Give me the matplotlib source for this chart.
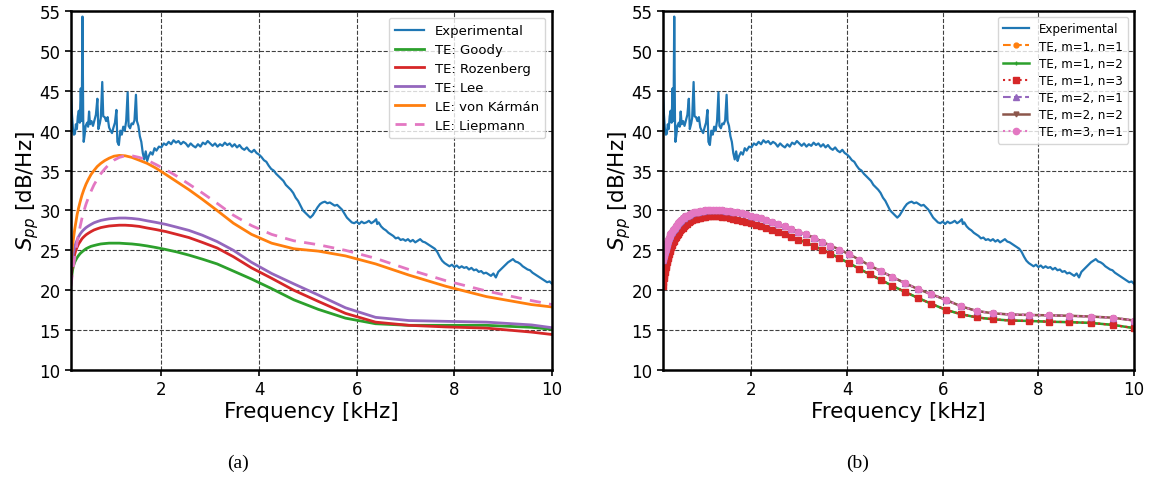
import numpy as np
import matplotlib
matplotlib.use("Agg")
import matplotlib.pyplot as plt

# ---------------- measured spectrum ----------------
exp_f = [0.15, 0.17, 0.19, 0.21, 0.23, 0.25, 0.27, 0.29, 0.31, 0.33, 0.35, 0.37, 0.385, 0.40,
         0.41, 0.43, 0.45, 0.48, 0.50, 0.52, 0.54, 0.57, 0.60, 0.63, 0.66, 0.69, 0.71, 0.74,
         0.76, 0.79, 0.81, 0.84, 0.87, 0.90, 0.93, 0.96, 0.99, 1.02, 1.05, 1.08, 1.10, 1.13,
         1.16, 1.19, 1.22, 1.25, 1.28, 1.31, 1.33, 1.36, 1.39, 1.42, 1.45, 1.48, 1.50, 1.53,
         1.56, 1.59, 1.62, 1.65, 1.68, 1.71, 1.74, 1.78, 1.82, 1.86, 1.90, 1.95, 2.00, 2.05,
         2.10, 2.15, 2.20, 2.25, 2.30, 2.35, 2.40, 2.45, 2.50, 2.55, 2.60, 2.65, 2.70, 2.75,
         2.80, 2.85, 2.90, 2.95, 3.00, 3.05, 3.10, 3.15, 3.20, 3.25, 3.30, 3.35, 3.40, 3.45,
         3.50, 3.55, 3.60, 3.65, 3.70, 3.75, 3.80, 3.85, 3.90, 3.95, 4.00, 4.05, 4.10, 4.15,
         4.20, 4.25, 4.30, 4.35, 4.40, 4.45, 4.50, 4.55, 4.60, 4.65, 4.70, 4.75, 4.80, 4.85,
         4.90, 4.95, 5.00, 5.05, 5.10, 5.15, 5.20, 5.25, 5.30, 5.35, 5.40, 5.45, 5.50, 5.55,
         5.60, 5.65, 5.70, 5.75, 5.80, 5.85, 5.90, 5.95, 6.00, 6.05, 6.10, 6.15, 6.20, 6.25,
         6.30, 6.35, 6.40, 6.42, 6.45, 6.50, 6.55, 6.60, 6.65, 6.70, 6.75, 6.80, 6.85, 6.90,
         6.95, 7.00, 7.05, 7.10, 7.15, 7.20, 7.25, 7.30, 7.35, 7.40, 7.45, 7.50, 7.55, 7.60,
         7.65, 7.70, 7.75, 7.80, 7.85, 7.90, 7.95, 8.00, 8.05, 8.10, 8.15, 8.20, 8.25, 8.30,
         8.35, 8.40, 8.45, 8.50, 8.55, 8.60, 8.65, 8.70, 8.75, 8.80, 8.85, 8.90, 8.95, 9.00,
         9.05, 9.10, 9.15, 9.20, 9.25, 9.30, 9.35, 9.40, 9.45, 9.50, 9.55, 9.60, 9.65, 9.70,
         9.75, 9.80, 9.85, 9.90, 9.95, 10.00]
exp_db = [44.8, 42.0, 40.2, 39.5, 39.6, 40.8, 40.2, 41.8, 42.5, 41.0, 45.3, 41.2, 54.3, 41.5,
          38.6, 39.5, 40.6, 41.0, 40.5, 42.4, 40.8, 41.2, 40.6, 41.3, 42.0, 44.0, 40.2, 40.9,
          41.6, 46.1, 41.8, 41.7, 41.2, 41.7, 40.4, 40.0, 39.7, 40.4, 41.0, 42.6, 38.6, 38.2,
          40.0, 39.5, 40.5, 40.0, 41.2, 44.8, 40.6, 40.3, 40.9, 40.8, 41.3, 44.5, 41.2, 40.6,
          39.3, 38.6, 37.2, 36.4, 37.4, 36.2, 36.8, 37.3, 37.0, 37.8, 37.5, 38.0, 37.9, 38.4,
          38.2, 38.6, 38.3, 38.8, 38.5, 38.7, 38.3, 38.6, 38.4, 38.0, 38.4, 38.1, 37.9, 38.3,
          38.0, 38.5, 38.3, 38.7, 38.4, 38.1, 38.4, 38.0, 38.3, 38.1, 38.5, 38.2, 38.4, 38.0,
          38.3, 37.9, 38.2, 37.8, 37.6, 37.9, 37.5, 37.3, 37.6, 37.2, 37.0, 36.7, 36.3, 36.1,
          35.6, 35.2, 35.0, 34.6, 34.3, 34.0, 33.7, 33.2, 32.9, 32.6, 32.2, 31.6, 31.2, 30.6,
          30.0, 29.7, 29.4, 29.1, 29.4, 29.9, 30.4, 30.8, 31.0, 31.1, 30.9, 31.0, 30.8, 30.6,
          30.7, 30.4, 30.1, 29.6, 29.1, 28.8, 28.5, 28.4, 28.6, 28.3, 28.6, 28.4, 28.5, 28.7,
          28.4, 28.6, 28.9, 28.3, 28.5, 28.0, 27.7, 27.5, 27.2, 27.0, 26.8, 26.5, 26.6, 26.3,
          26.4, 26.2, 26.4, 26.1, 26.3, 26.0, 26.2, 26.4, 26.1, 26.0, 25.8, 25.6, 25.4, 25.2,
          24.8, 24.2, 23.7, 23.4, 23.2, 23.0, 23.2, 22.9, 23.1, 22.8, 23.0, 22.8, 22.9, 22.6,
          22.8, 22.5, 22.6, 22.3, 22.4, 22.1, 22.2, 22.0, 21.8, 22.1, 21.6, 22.3, 22.6, 22.9,
          23.2, 23.5, 23.7, 23.9, 23.6, 23.5, 23.3, 23.0, 22.8, 22.6, 22.5, 22.2, 22.0, 21.8,
          21.6, 21.4, 21.2, 21.0, 21.1, 20.8]

# ---------------- panel (a): TE / LE predictions ----------------
freq_a = [0.150, 0.166, 0.184, 0.203, 0.225, 0.249, 0.276, 0.305, 0.338, 0.374, 0.413,
          0.458, 0.506, 0.560, 0.620, 0.686, 0.760, 0.841, 0.931, 1.030, 1.140, 1.261,
          1.396, 1.545, 1.710, 1.892, 2.094, 2.317, 2.565, 2.838, 3.141, 3.476, 3.847,
          4.258, 4.712, 5.215, 5.771, 6.387, 7.068, 7.823, 8.657, 9.581, 10.0]
te_goody = [21.0, 21.8, 22.6, 23.1, 23.5, 23.8, 24.1, 24.35, 24.6, 24.8, 25.0,
            25.2, 25.35, 25.5, 25.6, 25.7, 25.8, 25.85, 25.9, 25.9, 25.9, 25.85,
            25.8, 25.7, 25.55, 25.35, 25.1, 24.8, 24.4, 23.9, 23.3, 22.4, 21.4,
            20.2, 18.8, 17.6, 16.5, 15.8, 15.6, 15.6, 15.6, 15.35, 15.1]
te_rozenberg = [21.5, 22.5, 23.3, 23.9, 24.5, 25.0, 25.4, 25.8, 26.1, 26.45, 26.7,
                26.95, 27.15, 27.35, 27.55, 27.7, 27.85, 27.95, 28.05, 28.1, 28.15, 28.15,
                28.1, 28.0, 27.8, 27.6, 27.35, 27.0, 26.6, 26.0, 25.3, 24.2, 22.8,
                21.5, 20.0, 18.6, 17.1, 16.0, 15.6, 15.4, 15.25, 14.75, 14.45]
te_lee = [22.5, 23.4, 24.2, 24.8, 25.4, 25.9, 26.3, 26.7, 27.05, 27.35, 27.6,
          27.85, 28.05, 28.25, 28.45, 28.6, 28.75, 28.85, 28.95, 29.0, 29.05, 29.05,
          29.0, 28.9, 28.7, 28.5, 28.25, 27.9, 27.5, 26.9, 26.1, 25.0, 23.5,
          22.1, 20.8, 19.4, 17.8, 16.6, 16.2, 16.1, 16.0, 15.65, 15.3]
le_karman = [23.5, 24.6, 25.7, 26.6, 27.6, 28.5, 29.5, 30.3, 31.1, 31.9, 32.6,
             33.3, 33.9, 34.5, 35.0, 35.5, 35.9, 36.25, 36.55, 36.8, 36.9, 36.85,
             36.65, 36.3, 35.9, 35.3, 34.5, 33.6, 32.6, 31.4, 30.0, 28.4, 27.0,
             25.9, 25.2, 24.9, 24.3, 23.3, 21.9, 20.5, 19.2, 18.2, 17.9]
le_liepmann = [20.5, 21.4, 22.3, 23.1, 24.0, 25.0, 26.0, 27.0, 28.0, 29.0, 29.9,
               30.8, 31.6, 32.4, 33.2, 33.9, 34.6, 35.2, 35.8, 36.3, 36.65, 36.85,
               36.85, 36.65, 36.3, 35.75, 35.1, 34.3, 33.3, 32.2, 30.9, 29.4, 28.1,
               27.0, 26.2, 25.7, 25.0, 24.0, 22.6, 21.2, 19.9, 18.7, 18.2]

# ---------------- panel (b): TE with mode numbers ----------------
freq_b = [0.150, 0.158, 0.166, 0.175, 0.184, 0.193, 0.203, 0.214, 0.225, 0.236, 0.249,
          0.262, 0.275, 0.290, 0.305, 0.320, 0.337, 0.355, 0.373, 0.392, 0.413, 0.434,
          0.457, 0.481, 0.506, 0.532, 0.560, 0.589, 0.619, 0.652, 0.685, 0.721, 0.759,
          0.798, 0.840, 0.883, 0.929, 0.978, 1.028, 1.082, 1.138, 1.197, 1.259, 1.325,
          1.394, 1.466, 1.542, 1.623, 1.707, 1.796, 1.889, 1.987, 2.091, 2.199, 2.314,
          2.434, 2.561, 2.694, 2.834, 2.981, 3.136, 3.299, 3.471, 3.651, 3.841, 4.041,
          4.251, 4.472, 4.705, 4.949, 5.207, 5.477, 5.762, 6.062, 6.377, 6.709, 7.057,
          7.425, 7.811, 8.217, 8.644, 9.094, 9.567, 10.00]
te_m1 = [20.5, 21.0, 21.5, 21.9, 22.3, 22.6, 22.9, 23.2, 23.5, 23.8, 24.0,
         24.3, 24.5, 24.9, 25.2, 25.4, 25.7, 26.0, 26.2, 26.5, 26.7, 26.9,
         27.1, 27.3, 27.5, 27.7, 27.85, 28.0, 28.2, 28.35, 28.5, 28.65, 28.75,
         28.9, 28.95, 29.05, 29.1, 29.15, 29.2, 29.25, 29.3, 29.3, 29.3, 29.25,
         29.2, 29.15, 29.05, 28.95, 28.85, 28.7, 28.55, 28.4, 28.2, 28.0, 27.8,
         27.55, 27.3, 27.0, 26.7, 26.35, 26.0, 25.55, 25.1, 24.6, 24.0, 23.4,
         22.7, 22.0, 21.3, 20.55, 19.8, 19.05, 18.3, 17.55, 17.0, 16.6, 16.35,
         16.2, 16.15, 16.05, 16.0, 15.9, 15.65, 15.25]
te_m2 = [23.8, 24.1, 24.35, 24.6, 24.8, 25.0, 25.2, 25.45, 25.7, 25.95, 26.2,
         26.35, 26.55, 26.75, 27.0, 27.15, 27.3, 27.5, 27.7, 27.85, 28.05, 28.2,
         28.4, 28.55, 28.7, 28.85, 29.0, 29.1, 29.25, 29.35, 29.45, 29.55, 29.65,
         29.75, 29.8, 29.85, 29.9, 29.95, 30.0, 30.0, 30.05, 30.05, 30.05, 30.05,
         30.0, 29.95, 29.9, 29.85, 29.75, 29.65, 29.5, 29.35, 29.2, 29.0, 28.8,
         28.55, 28.3, 28.0, 27.7, 27.35, 27.0, 26.6, 26.1, 25.6, 25.1, 24.5,
         23.85, 23.1, 22.4, 21.65, 20.9, 20.15, 19.5, 18.8, 18.0, 17.4, 17.1,
         16.95, 16.9, 16.85, 16.8, 16.7, 16.55, 16.2]
te_m1n1 = te_m1
te_m1n2 = te_m1
te_m1n3 = te_m1
te_m2n1 = te_m2
te_m2n2 = te_m2
te_m3n1 = te_m2

legend_a = ["Experimental", "TE: Goody", "TE: Rozenberg", "TE: Lee",
            "LE: von Kármán", "LE: Liepmann"]
legend_b = ["Experimental", "TE, m=1, n=1", "TE, m=1, n=2", "TE, m=1, n=3",
            "TE, m=2, n=1", "TE, m=2, n=2", "TE, m=3, n=1"]
xticks = [2, 4, 6, 8, 10]
yticks = [10, 15, 20, 25, 30, 35, 40, 45, 50, 55]

plt.rcParams["font.family"] = ["DejaVu Sans"]

fig = plt.figure(figsize=(11.5, 4.81), dpi=100)
ax_a = fig.add_axes([71 / 1150, 1 - 371 / 481, 481 / 1150, 359 / 481])
ax_b = fig.add_axes([663 / 1150, 1 - 371 / 481, 471 / 1150, 359 / 481])


def style_axes(ax):
    ax.set_xlim(0.15, 10)
    ax.set_ylim(10, 55)
    ax.set_xticks(xticks)
    ax.set_yticks(yticks)
    ax.tick_params(labelsize=12, width=1.2, length=4)
    ax.grid(True, color="k", linestyle="--", linewidth=0.8, alpha=0.75)
    for sp in ax.spines.values():
        sp.set_linewidth(1.8)
        sp.set_color("k")
    ax.set_xlabel("Frequency [kHz]", fontsize=15.5, labelpad=2)
    ax.set_ylabel("$S_{pp}$ [dB/Hz]", fontsize=15.5, labelpad=-1)


# panel (a)
ax_a.plot(exp_f, exp_db, color="C0", lw=1.6, label=legend_a[0])
ax_a.plot(freq_a, te_goody, color="C2", lw=2.0, label=legend_a[1])
ax_a.plot(freq_a, te_rozenberg, color="C3", lw=2.0, label=legend_a[2])
ax_a.plot(freq_a, te_lee, color="C4", lw=2.0, label=legend_a[3])
ax_a.plot(freq_a, le_karman, color="C1", lw=2.0, label=legend_a[4])
ax_a.plot(freq_a, le_liepmann, color="C6", lw=2.0, ls=(0, (4, 3)), label=legend_a[5])
style_axes(ax_a)
ax_a.legend(loc="upper right", fontsize=9.5, handlelength=2.2, borderpad=0.5,
            labelspacing=0.45)

# panel (b)
ax_b.plot(exp_f, exp_db, color="C0", lw=1.6, label=legend_b[0])
ax_b.plot(freq_b, te_m1n1, color="C1", lw=1.5, ls="--", marker="o", ms=3.5, label=legend_b[1])
ax_b.plot(freq_b, te_m1n2, color="C2", lw=1.8, ls="-", marker="+", ms=3.5, label=legend_b[2])
ax_b.plot(freq_b, te_m1n3, color="C3", lw=1.5, ls=":", marker="s", ms=4.5, label=legend_b[3])
ax_b.plot(freq_b, te_m2n1, color="C4", lw=1.5, ls="--", marker="^", ms=4.5, label=legend_b[4])
ax_b.plot(freq_b, te_m2n2, color="C5", lw=1.8, ls="-", marker="v", ms=3.5, label=legend_b[5])
ax_b.plot(freq_b, te_m3n1, color="C6", lw=1.5, ls=":", marker="o", ms=4.5, label=legend_b[6])
style_axes(ax_b)
ax_b.legend(loc="upper right", fontsize=8.6, handlelength=2.2, borderpad=0.45,
            labelspacing=0.35)

fig.text(238 / 1150, 1 - 463 / 481, "(a)", family="Liberation Serif", fontsize=14,
         ha="center", va="center")
fig.text(858 / 1150, 1 - 463 / 481, "(b)", family="Liberation Serif", fontsize=14,
         ha="center", va="center")

fig.savefig("out.png", dpi=100)
